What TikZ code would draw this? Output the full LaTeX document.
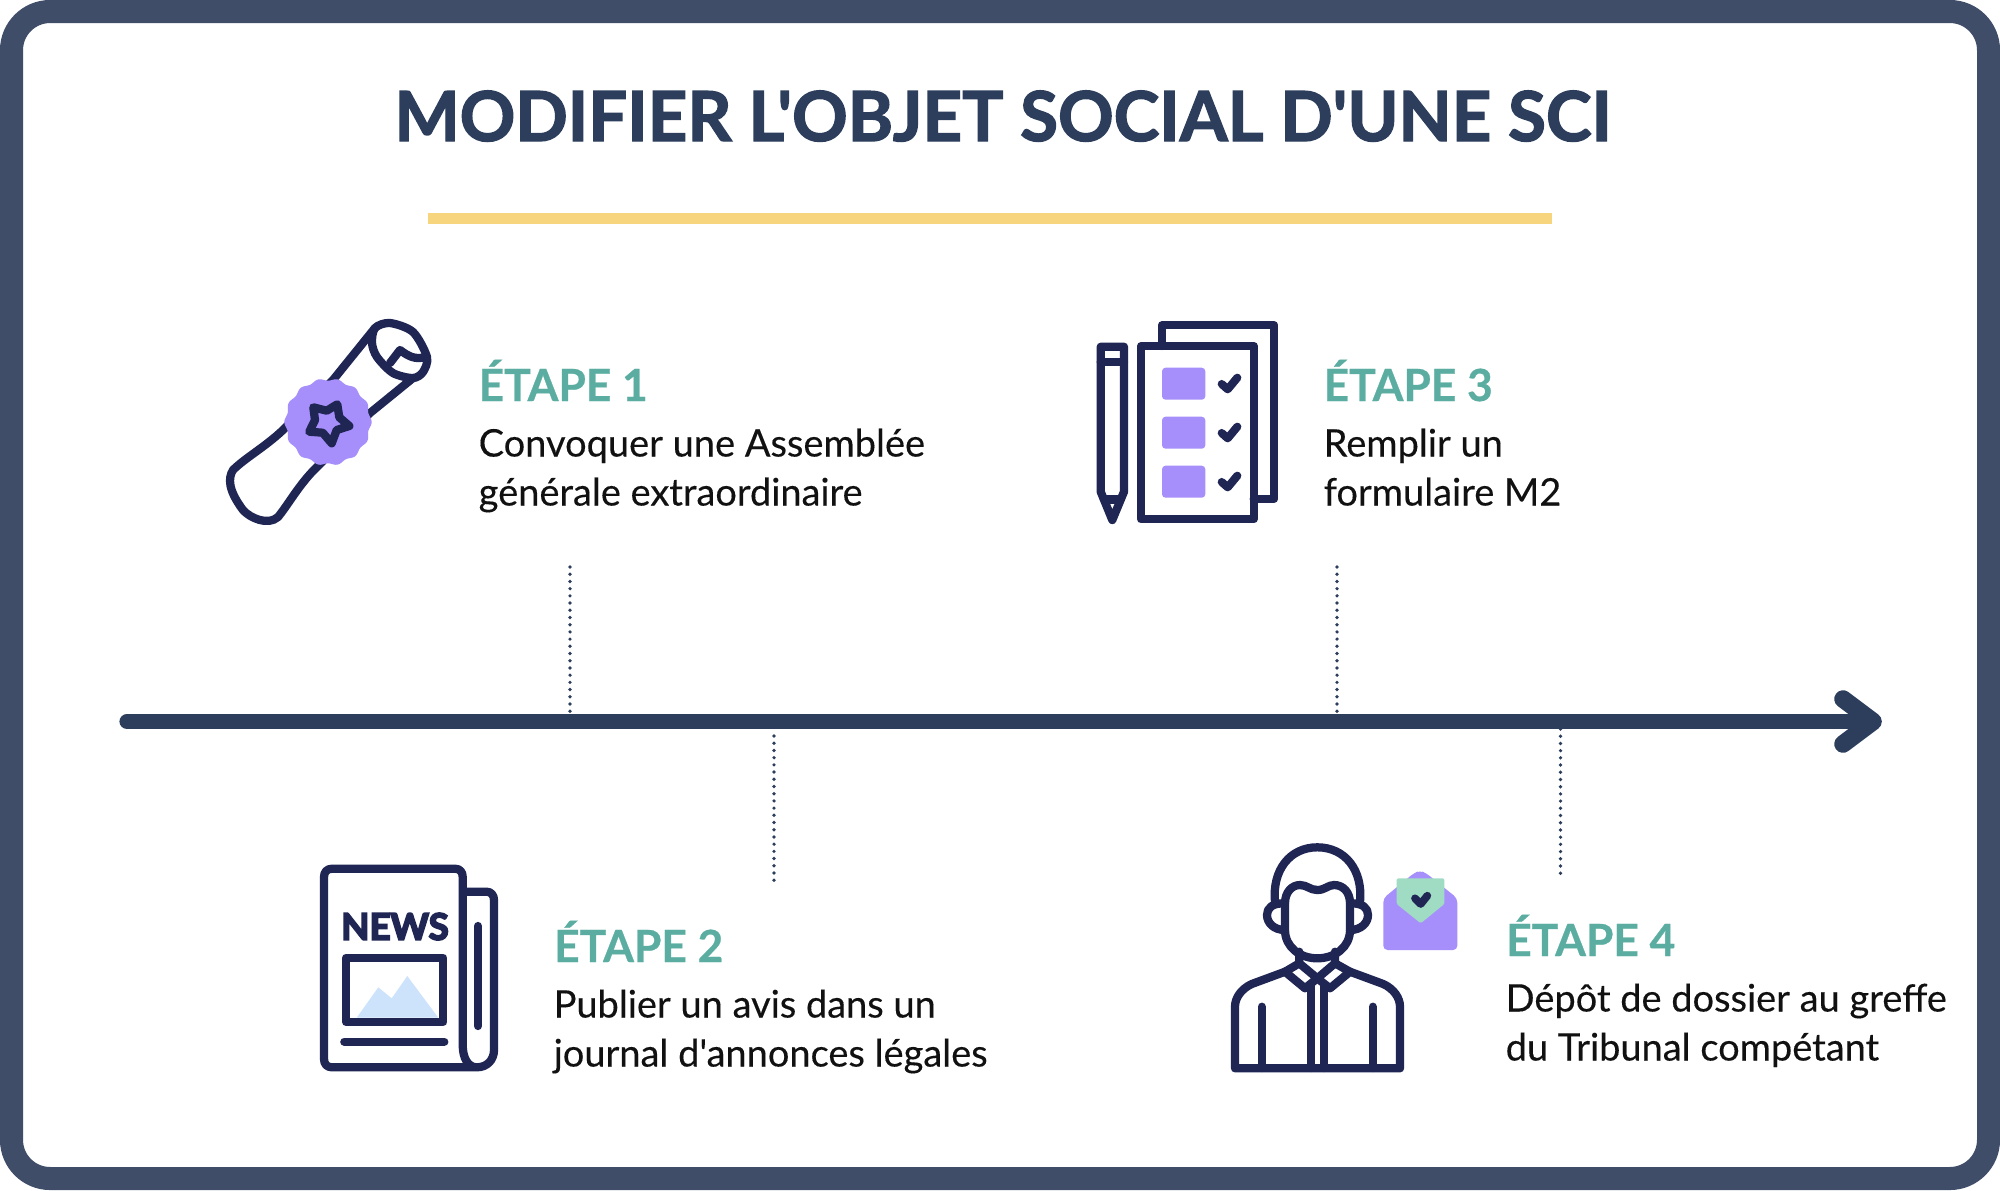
\documentclass[tikz,border=0pt]{standalone}
\usepackage{fontspec}
\setmainfont[BoldFeatures={FakeBold=0.6}]{Lato}
\newfontfamily\bodyfont[FakeBold=0.25]{Lato}
\newfontfamily\titlefont[BoldFeatures={FakeBold=2}]{Lato}
\newfontfamily\newsfont[BoldFeatures={FakeBold=5}]{Lato}
\definecolor{frame}{HTML}{3F4D68}
\definecolor{navy}{HTML}{2C3E5C}
\definecolor{ink}{HTML}{1F2653}
\definecolor{rule}{HTML}{F7D57F}
\definecolor{teal}{HTML}{5AADA0}
\definecolor{lilac}{HTML}{A78FFB}
\definecolor{mint}{HTML}{A0DCC4}
\definecolor{sky}{HTML}{CDE3FB}
\definecolor{body}{HTML}{111111}
\tikzset{
  icon/.style={draw=ink,line width=2.35pt,line join=round,line cap=round},
  tick/.style={draw=navy,line width=1.05pt,line cap=round,dash pattern=on 0pt off 2.05pt},
  head/.style={anchor=base west,inner sep=0pt,text=teal,font=\fontsize{12.6}{15}\selectfont\bfseries},
  desc/.style={anchor=base west,inner sep=0pt,text=body,font=\bodyfont\fontsize{10.8}{14.2}\selectfont,align=left},
}
\newcommand{\chk}[1]{\draw[icon,line width=2.3pt] (1221.7,#1) -- (1227.7,#1+5.3) -- (1237.3,#1-6.3);}
\begin{document}
\begin{tikzpicture}[x=0.01cm,y=-0.01cm]
   \useasboundingbox (0,0) rectangle (2000,1190);
   % frame
   \draw[draw=frame,fill=white,line width=6.55pt,rounded corners=11pt] (11.5,11.5) rectangle (1988.5,1178.5);
   % title
   \node[anchor=base,inner sep=0pt,text=navy,font=\titlefont\fontsize{19.6}{24}\selectfont\bfseries] (title) at (1003,141) {MODIFIER L'OBJET SOCIAL D'UNE SCI};
   \coordinate (ruleA) at (428,218.5);
   \coordinate (ruleB) at (1552,218.5);
   \draw[rule,line width=3.1pt] (ruleA) -- (ruleB);
   % timeline
   \coordinate (axisA) at (127,721.5);
   \coordinate (axisB) at (1873,721.5);
   \coordinate (tipA) at (1843,699);
   \coordinate (tipB) at (1843,744);
   \draw[navy,line width=4.3pt,line cap=round] (axisA) -- (axisB);
   \draw[navy,line width=5pt,line cap=round,line join=round] (tipA) -- (axisB) -- (tipB);
   \coordinate (t1a) at (570,567);   \coordinate (t1b) at (570,712);
   \coordinate (t3a) at (1337,567);  \coordinate (t3b) at (1337,712);
   \coordinate (t2a) at (774,736);   \coordinate (t2b) at (774,882);
   \coordinate (t4a) at (1560.5,729);\coordinate (t4b) at (1560.5,875);
   \draw[tick] (t1a) -- (t1b);
   \draw[tick] (t3a) -- (t3b);
   \draw[tick] (t2a) -- (t2b);
   \draw[tick] (t4a) -- (t4b);
   % texts
   \node[head] (h1) at (478,401) {ÉTAPE 1};
   \node[desc] (d1) at (478,456.5) {Convoquer une Assemblée};
   \node[desc] (e1) at (478,505.5) {générale extraordinaire};
   \node[head] (h3) at (1323,401) {ÉTAPE 3};
   \node[desc] (d3) at (1323,456.5) {Remplir un};
   \node[desc] (e3) at (1323,505.5) {formulaire M2};
   \node[head] (h2) at (553.5,962) {ÉTAPE 2};
   \node[desc] (d2) at (553,1017.5) {Publier un avis dans un};
   \node[desc] (e2) at (553,1066.5) {journal d'annonces légales};
   \node[head] (h4) at (1505.5,956) {ÉTAPE 4};
   \node[desc] (d4) at (1505,1011.5) {Dépôt de dossier au greffe};
   \node[desc] (e4) at (1505,1060.5) {du Tribunal compétant};
   % scroll
   \draw[icon] (375,328) -- (333,380) -- (283,430) .. controls (265,447) and (245,458) .. (233,470)
      .. controls (228,478) and (228,490) .. (243,510) .. controls (250,518) and (268,526) .. (278,517)
      .. controls (288,505) and (300,483) .. (317,467) -- (370,413) -- (413,378);
   \draw[icon] plot[smooth cycle] coordinates {(375,328) (390,323) (413,332) (427,357) (423,372) (413,378) (393,373) (377,357) (372,343)};
   \draw[icon] (390,363) -- (400,350) .. controls (408,356) and (415,360) .. (425,357);
   \fill[lilac] plot[domain=0:360,samples=145,smooth] ({328+(42.5+1.2*cos(14*\x))*cos(\x)},{422+(42.5+1.2*cos(14*\x))*sin(\x)}) -- cycle;
   \draw[icon] (313.3,407.3) -- (326.7,410.7) -- (337.3,404.3) -- (339.3,417.3) -- (349.3,426) -- (336.7,430) -- (331.7,443.3) -- (322.7,432.7) -- (309.3,431.7) -- (315,420) -- cycle;
   % checklist
   \draw[icon] (1162,346) -- (1162,325.3) -- (1274.3,325.3) -- (1274.3,498.7) -- (1253.7,498.7);
   \draw[icon] (1141,346) rectangle (1253.7,519.3);
   \draw[icon] (1100.7,491.7) -- (1100.7,346.7) -- (1124,346.7) -- (1124,491.7) -- (1112.3,520) -- cycle;
   \draw[icon] (1100.7,362.3) -- (1124,362.3);
   \draw[icon] (1104,499.5) -- (1120.5,499.5);
   \foreach \y in {367.7,416.7,465.7} {
     \fill[lilac,rounded corners=1pt] (1162,\y) rectangle (1205.3,\y+32);
   }
   \chk{384}
   \chk{433}
   \chk{482}
   % newspaper
   \draw[icon] (476.7,1067.3) -- (332,1067.3) .. controls (327,1067.3) and (324,1064) .. (324,1059) -- (324,877) .. controls (324,872) and (327,868.7) .. (332,868.7) -- (455,868.7) .. controls (460,868.7) and (462.7,872) .. (462.7,877) -- (462.7,1045) .. controls (462.7,1058) and (468,1067.3) .. (476.7,1067.3) .. controls (487,1067.3) and (494,1060) .. (494,1050) -- (494,900) .. controls (494,895) and (491,891.7) .. (486.7,891.7) -- (462.7,891.7);
   \draw[icon] (478,926) -- (478,1026);
   \node[inner sep=0pt,text=ink,font=\newsfont\fontsize{10.4}{11}\selectfont\bfseries] (news) at (395,926.5) {NEWS};
   \fill[sky] (356.7,1017.7) -- (378.3,987.3) -- (391.7,998.3) -- (407.3,976) -- (438.3,1017.7) -- cycle;
   \draw[icon] (346,957.7) rectangle (443.3,1022);
   \draw[icon] (344.3,1041.7) -- (444.3,1041.7);
   % person
   \draw[icon] (1275,901.7) .. controls (1272,870) and (1290,847.3) .. (1317.3,847.3) .. controls (1345,847.3) and (1363,870) .. (1360,901.7);
   \draw[icon] (1285,903.3) .. controls (1285,892) and (1292,885) .. (1300,885) .. controls (1307,885) and (1310,890) .. (1317.3,890) .. controls (1325,890) and (1328,885) .. (1334,885) .. controls (1343,885) and (1350,892) .. (1350,903.3) -- (1350,930) .. controls (1350,947) and (1335,958.3) .. (1317.3,958.3) .. controls (1300,958.3) and (1285,947) .. (1285,930) -- cycle;
   \draw[icon] (1285,903.3) .. controls (1272,903) and (1267,908) .. (1267,915) .. controls (1267,923) and (1274,930) .. (1285,930);
   \draw[icon] (1350,903.3) .. controls (1363,903) and (1368,908) .. (1368,915) .. controls (1368,923) and (1361,930) .. (1350,930);
   \draw[icon] (1299.3,951.7) -- (1299.3,963.3) -- (1317.3,978.3) -- (1335,963.3) -- (1335,951.7);
   \draw[icon] (1299.3,963.3) -- (1285,971.7) -- (1305,988.3) -- (1317.3,978.3) -- (1330,988.3) -- (1350,971.7) -- (1335,963.3);
   \draw[icon] (1285,971.7) -- (1251.7,984) .. controls (1241,989) and (1235,998) .. (1235,1006.7) -- (1235,1068.3) -- (1400,1068.3) -- (1400,1006.7) .. controls (1400,998) and (1394,989) .. (1383.3,984) -- (1350,971.7);
   \draw[icon] (1311,985) -- (1311,1068);
   \draw[icon] (1323.7,985) -- (1323.7,1068);
   \draw[icon] (1261.7,1006.7) -- (1261.7,1068);
   \draw[icon] (1372.7,1006.7) -- (1372.7,1068);
   % envelope
   \fill[lilac,rounded corners=1.2pt] (1383.3,898.3) -- (1414,873) -- (1420,870.7) -- (1426,873) -- (1457.3,898.3) -- (1457.3,950) -- (1383.3,950) -- cycle;
   \fill[mint,rounded corners=0.4pt] (1396.7,878.3) -- (1444.3,878.3) -- (1444.3,904) -- (1420.7,923.3) -- (1396.7,904) -- cycle;
   \draw[icon,line width=2.2pt] (1415,898.3) -- (1420.7,904) -- (1427.3,895.7);
\end{tikzpicture}
\end{document}
